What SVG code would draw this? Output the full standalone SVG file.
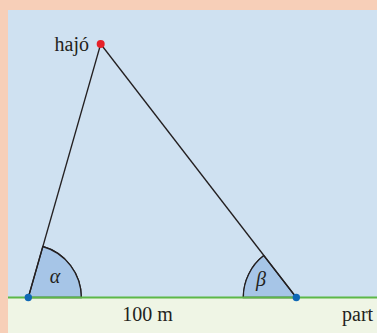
<svg xmlns="http://www.w3.org/2000/svg" width="377" height="333" viewBox="0 0 377 333">
<style>
.t{font-family:"Liberation Serif","DejaVu Serif",serif;font-size:20px;fill:#231f20}
.g{font-style:italic}
.ln{stroke:#231f20;stroke-width:1.3;fill:none}
.arc{fill:#a6c5e7;stroke:#231f20;stroke-width:1.3}
</style>
<rect x="0" y="0" width="377" height="333" fill="#f7cfb8"/>
<rect x="8" y="10" width="369" height="288" fill="#cfe1f1"/>
<rect x="8" y="297.5" width="369" height="35.5" fill="#eff5e5"/>
<g id="angles">
<path class="arc" d="M28.3,297.5 L42.8,246.5 A53,53 0 0 1 81.3,297.5 Z" stroke="none"/>
<path class="arc" fill="none" d="M42.8,246.5 A53,53 0 0 1 81.3,297.5"/>
<path class="arc" d="M296.3,297.5 L243.3,297.5 A53,53 0 0 1 263.8,255.6 Z" stroke="none"/>
<path class="arc" fill="none" d="M243.3,297.5 A53,53 0 0 1 263.8,255.6"/>
</g>
<g id="connectors">
<line class="ln" x1="28.3" y1="297.5" x2="100.7" y2="44"/>
<line class="ln" x1="296.3" y1="297.5" x2="100.7" y2="44"/>
<line x1="8" y1="297.5" x2="377" y2="297.5" stroke="#5db848" stroke-width="2.2"/>
</g>
<g id="ship">
<circle cx="100.7" cy="44" r="4" fill="#e62129"/>
<text class="t" x="89" y="51" text-anchor="end">hajó</text>
</g>
<g id="pointA">
<circle cx="28.3" cy="297.5" r="3.7" fill="#0f68b5"/>
<text class="t g" x="55" y="283" text-anchor="middle">α</text>
</g>
<g id="pointB">
<circle cx="296.3" cy="297.5" r="3.7" fill="#0f68b5"/>
<text class="t g" x="261" y="286" text-anchor="middle">β</text>
</g>
<g id="labels">
<text class="t" x="147.5" y="321" text-anchor="middle">100 m</text>
<text class="t" x="342" y="321">part</text>
</g>
</svg>
